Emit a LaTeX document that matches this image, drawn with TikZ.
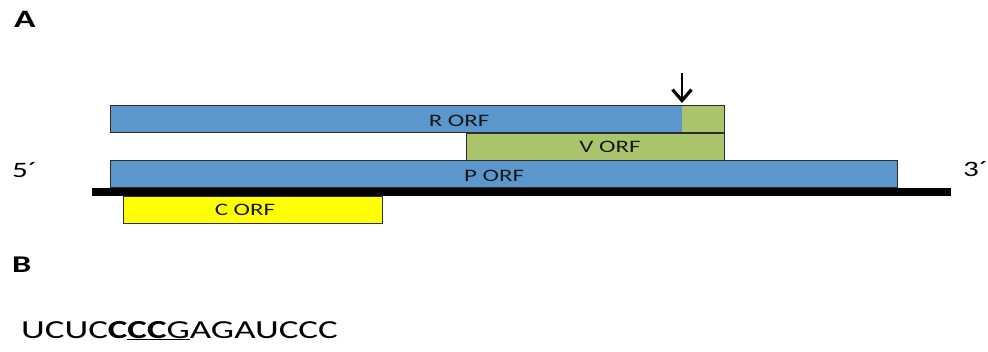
\documentclass[tikz,border=0pt]{standalone}
\usepackage{fontspec}
\setmainfont[FakeStretch=1.42]{Carlito}
\usetikzlibrary{arrows.meta}
\definecolor{orfblue}{RGB}{91,150,205}
\definecolor{orfgreen}{RGB}{170,196,108}
\definecolor{orfyellow}{RGB}{255,255,0}
\definecolor{edgegray}{RGB}{45,45,45}
\begin{document}
\begin{tikzpicture}[x=1pt,y=-1pt,
  fillbox/.style={rectangle, inner sep=0pt, outer sep=0pt, anchor=north west, minimum height=27pt},
  bar/.style={fillbox, draw=edgegray, line width=0.9pt},
  lab/.style={font=\fontsize{17.5}{18}\selectfont, inner sep=0pt, text=black!90},
  big/.style={font=\fontsize{24}{26}\selectfont, inner sep=0pt, anchor=base west},
  arr/.style={line width=2.6pt, -{Straight Barb[length=11pt,width=19pt,line width=3.2pt]}, shorten >=2pt}]
\useasboundingbox (0,0) rectangle (988,351);
% R ORF
\node[fillbox, fill=orfblue, minimum width=614pt] (R) at (110,105) {};
\node[fillbox, fill=orfgreen, minimum width=42pt] (Rg) at (682,105) {};
\draw[edgegray, line width=0.9pt] (R.north west) rectangle (R.south east);
% V ORF
\node[bar, fill=orfgreen, minimum width=258pt] (V) at (466,133) {};
% P ORF
\node[bar, fill=orfblue, minimum width=787pt] (P) at (110,160) {};
% strand
\node[fillbox, fill=black, minimum width=859pt, minimum height=8pt] (strand) at (92,188) {};
% C ORF
\node[bar, fill=orfyellow, minimum width=259pt] (C) at (123,196) {};
% labels
\node[lab] (lr) at (459,120.5) {R ORF};
\node[lab] (lv) at (610,147) {V ORF};
\node[lab] (lp) at (494,176) {P ORF};
\node[lab] (lc) at (245,209.5) {C ORF};
% arrow
\coordinate (arrtop) at (682,73);
\draw[arr] (arrtop) -- (Rg.north west);
% ends and panel letters
\node[big, font=\fontsize{22}{24}\selectfont] (five) at (12,177) {5´};
\node[big, font=\fontsize{22}{24}\selectfont] (three) at (963,176) {3´};
\node[big, font=\fontsize{25}{26}\selectfont\bfseries] (la) at (14,27) {A};
\node[big, font=\fontsize{24}{26}\selectfont\bfseries] (lb) at (12,272) {B};
\node[big, font=\fontsize{26}{28}\selectfont] (seq) at (21,338) {UCUC\textbf{C}\underline{\textbf{CC}G}AGAUCCC};
\end{tikzpicture}
\end{document}
